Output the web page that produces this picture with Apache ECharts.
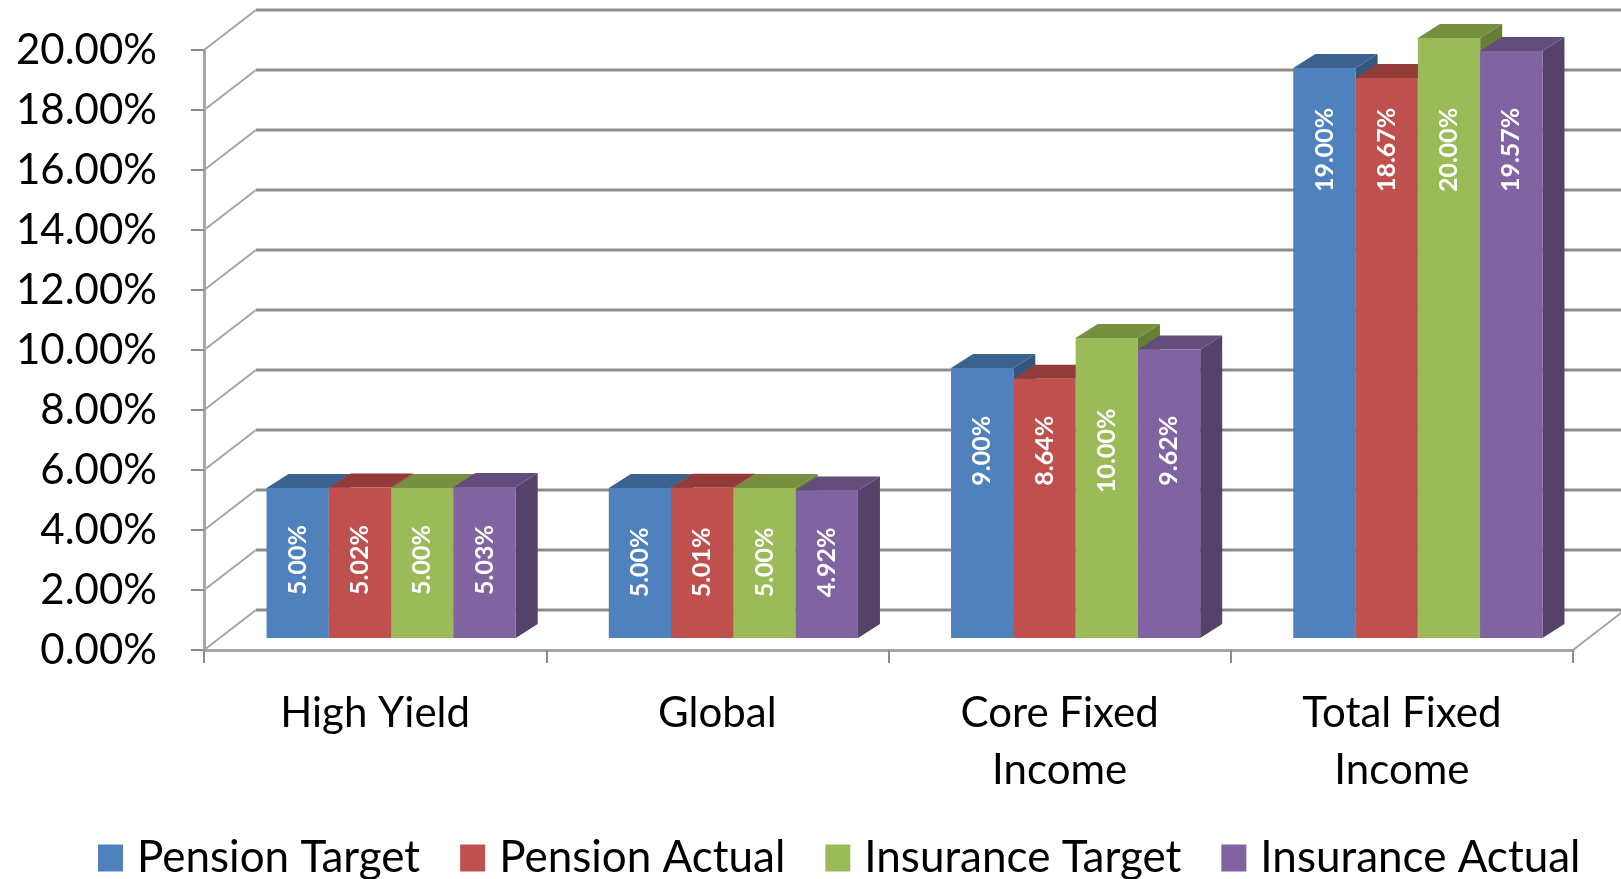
<!DOCTYPE html>
<html>
<head>
<meta charset="utf-8">
<script src="https://cdn.jsdelivr.net/npm/echarts@6/dist/echarts.min.js"></script>
<style>html,body{margin:0;padding:0;background:#fff;}#c{width:1621px;height:879px;}</style>
</head>
<body>
<div id="c"></div>
<script>
const categories = ['High Yield', 'Global', 'Core Fixed\nIncome', 'Total Fixed\nIncome'];
const seriesNames = ['Pension Target', 'Pension Actual', 'Insurance Target', 'Insurance Actual'];
const pensionTarget = [5.00, 5.00, 9.00, 19.00];
const pensionActual = [5.02, 5.01, 8.64, 18.67];
const insuranceTarget = [5.00, 5.00, 10.00, 20.00];
const insuranceActual = [5.03, 4.92, 9.62, 19.57];
const yTicks = [0, 2, 4, 6, 8, 10, 12, 14, 16, 18, 20];

const allValues = [pensionTarget, pensionActual, insuranceTarget, insuranceActual];
const frontColors = ['#4F81BD', '#C0504D', '#9BBB59', '#8064A2'];
const topColors = ['#3C6291', '#933B38', '#76903F', '#624D7C'];
const sideColors = ['#35567F', '#7F3330', '#677E37', '#54426A'];

// 3D projection offsets (pixels)
const WALL_DX = 52, WALL_DY = 40;     // back wall offset
const BAR_FX = 16, BAR_FY = 12;       // bar front face offset from front plane
const BAR_DX = 22, BAR_DY = 14;       // bar depth
const GROUP_FRAC = 0.728;

const catMins = categories.map((c, i) => Math.min(...allValues.map(a => a[i])));

const chart = echarts.init(document.getElementById('c'), null, {renderer: 'canvas'});

function wallRender(params, api) {
  const cs = params.coordSys;
  const v = api.value(1);
  const y = api.coord([0, v])[1];
  const left = cs.x, right = cs.x + cs.width;
  const children = [
    {type: 'line', shape: {x1: left, y1: y, x2: left + WALL_DX, y2: y - WALL_DY},
     style: {stroke: '#a6a6a6', lineWidth: 2}},
    {type: 'line', shape: {x1: left + WALL_DX, y1: y - WALL_DY, x2: right + WALL_DX, y2: y - WALL_DY},
     style: {stroke: '#8c8c8c', lineWidth: 3}}
  ];
  if (v === 0) {
    children.push({type: 'line', shape: {x1: right, y1: y, x2: right + WALL_DX, y2: y - WALL_DY},
      style: {stroke: '#a6a6a6', lineWidth: 2}});
  }
  return {type: 'group', children: children};
}

function makeBarRender(s) {
  return function (params, api) {
    const ci = api.value(0);
    const v = api.value(1);
    const base = api.coord([ci, 0]);
    const topP = api.coord([ci, v]);
    const catW = api.size([1, 0])[0];
    const groupW = catW * GROUP_FRAC;
    const bw = groupW / 4;
    const x0 = base[0] - groupW / 2 + s * bw + BAR_FX;
    const by = base[1] - BAR_FY;
    const ty = topP[1] - BAR_FY;
    const labY = api.coord([ci, catMins[ci] - 2.4])[1] - BAR_FY;
    return {
      type: 'group',
      children: [
        {type: 'polygon', shape: {points: [[x0 + bw, ty], [x0 + bw + BAR_DX, ty - BAR_DY], [x0 + bw + BAR_DX, by - BAR_DY], [x0 + bw, by]]},
         style: {fill: sideColors[s]}},
        {type: 'polygon', shape: {points: [[x0, ty], [x0 + bw, ty], [x0 + bw + BAR_DX, ty - BAR_DY], [x0 + BAR_DX, ty - BAR_DY]]},
         style: {fill: topColors[s]}},
        {type: 'rect', shape: {x: x0, y: ty, width: bw, height: by - ty},
         style: {fill: frontColors[s]}},
        {type: 'text', x: x0 + bw / 2, y: labY, rotation: Math.PI / 2,
         style: {text: v.toFixed(2) + '%', fill: '#ffffff', font: 'bold 25px Lato',
                 align: 'center', verticalAlign: 'middle'}}
      ]
    };
  };
}

const series = [{
  type: 'custom',
  name: '__walls',
  renderItem: wallRender,
  data: yTicks.map(v => [0, v]),
  clip: false,
  silent: true,
  z: 1
}];
seriesNames.forEach((n, s) => {
  series.push({
    type: 'custom',
    name: n,
    renderItem: makeBarRender(s),
    data: allValues[s].map((v, i) => [i, v]),
    encode: {x: 0, y: 1},
    itemStyle: {color: frontColors[s]},
    clip: false,
    z: 2 + s
  });
});

chart.setOption({
  animation: false,
  backgroundColor: '#ffffff',
  grid: {left: 204, right: 48, top: 50, bottom: 229, containLabel: false},
  xAxis: {
    type: 'category',
    data: categories,
    boundaryGap: true,
    axisLine: {show: true, lineStyle: {color: '#a6a6a6', width: 3}},
    axisTick: {show: true, inside: false, length: 13, alignWithLabel: false, lineStyle: {color: '#8c8c8c', width: 2}},
    axisLabel: {color: '#000', fontFamily: 'Lato', fontSize: 42, lineHeight: 57, margin: 35, interval: 0},
    splitLine: {show: false}
  },
  yAxis: {
    type: 'value',
    min: 0, max: 20, interval: 2,
    axisLine: {show: true, lineStyle: {color: '#a6a6a6', width: 3}},
    axisTick: {show: true, inside: false, length: 13, lineStyle: {color: '#8c8c8c', width: 2}},
    axisLabel: {color: '#000', fontFamily: 'Lato', fontSize: 42, margin: 47,
                formatter: v => v.toFixed(2) + '%'},
    splitLine: {show: false}
  },
  legend: {
    data: seriesNames,
    left: 93, top: 831,
    icon: 'rect', itemWidth: 25, itemHeight: 27, itemGap: 40,
    textStyle: {color: '#000', fontFamily: 'Lato', fontSize: 44, padding: [0, 0, 0, 9]},
    selectedMode: false
  },
  series: series
});
</script>
</body>
</html>
